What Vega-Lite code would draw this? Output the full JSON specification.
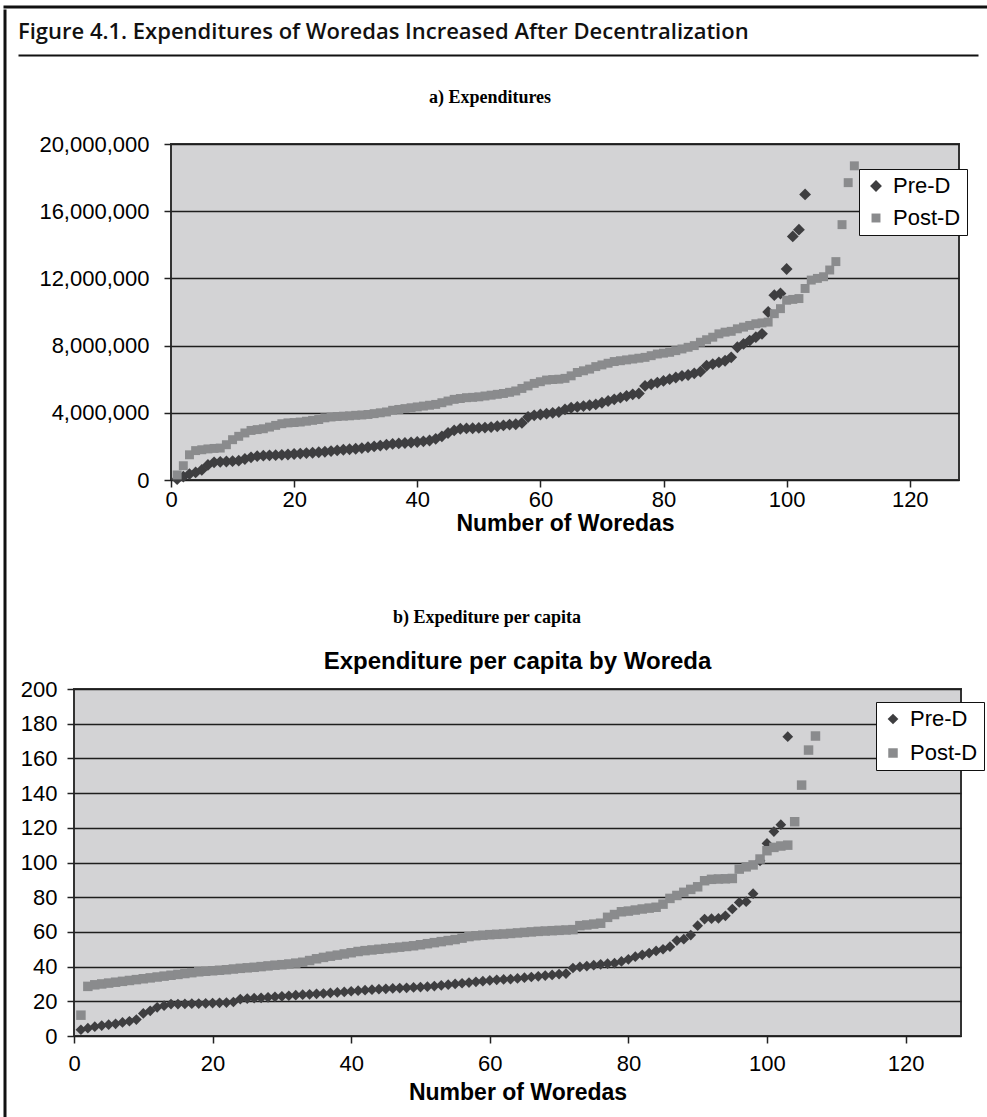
{
"$schema": "https://vega.github.io/schema/vega-lite/v6.json",
"background": "white",
"padding": {"left": 3, "top": 5, "right": 0, "bottom": 0},
"spacing": 0,
"resolve": {"scale": {"color": "independent", "shape": "independent", "size": "independent"}},
"config": {
  "view": {"stroke": null},
  "font": "Liberation Sans",
  "axis": {"labelFont": "Liberation Sans", "titleFont": "Liberation Sans", "labelColor": "#000", "titleColor": "#000", "tickColor": "#222", "labelFlush": false, "labelOverlap": false},
  "title": {"color": "#000"}
},
"datasets": {
"exp": [
{"s":"Pre-D","n":1,"v":50000},{"s":"Pre-D","n":2,"v":200000},{"s":"Pre-D","n":3,"v":350000},{"s":"Pre-D","n":4,"v":450000},{"s":"Pre-D","n":5,"v":600000},{"s":"Pre-D","n":6,"v":900000},{"s":"Pre-D","n":7,"v":1050000},{"s":"Pre-D","n":8,"v":1080000},{"s":"Pre-D","n":9,"v":1100000},{"s":"Pre-D","n":10,"v":1120000},
{"s":"Pre-D","n":11,"v":1150000},{"s":"Pre-D","n":12,"v":1250000},{"s":"Pre-D","n":13,"v":1350000},{"s":"Pre-D","n":14,"v":1420000},{"s":"Pre-D","n":15,"v":1450000},{"s":"Pre-D","n":16,"v":1470000},{"s":"Pre-D","n":17,"v":1480000},{"s":"Pre-D","n":18,"v":1500000},{"s":"Pre-D","n":19,"v":1520000},{"s":"Pre-D","n":20,"v":1550000},
{"s":"Pre-D","n":21,"v":1570000},{"s":"Pre-D","n":22,"v":1600000},{"s":"Pre-D","n":23,"v":1620000},{"s":"Pre-D","n":24,"v":1650000},{"s":"Pre-D","n":25,"v":1680000},{"s":"Pre-D","n":26,"v":1720000},{"s":"Pre-D","n":27,"v":1760000},{"s":"Pre-D","n":28,"v":1800000},{"s":"Pre-D","n":29,"v":1830000},{"s":"Pre-D","n":30,"v":1860000},
{"s":"Pre-D","n":31,"v":1900000},{"s":"Pre-D","n":32,"v":1950000},{"s":"Pre-D","n":33,"v":2000000},{"s":"Pre-D","n":34,"v":2050000},{"s":"Pre-D","n":35,"v":2100000},{"s":"Pre-D","n":36,"v":2150000},{"s":"Pre-D","n":37,"v":2180000},{"s":"Pre-D","n":38,"v":2200000},{"s":"Pre-D","n":39,"v":2230000},{"s":"Pre-D","n":40,"v":2260000},
{"s":"Pre-D","n":41,"v":2300000},{"s":"Pre-D","n":42,"v":2350000},{"s":"Pre-D","n":43,"v":2450000},{"s":"Pre-D","n":44,"v":2600000},{"s":"Pre-D","n":45,"v":2800000},{"s":"Pre-D","n":46,"v":2950000},{"s":"Pre-D","n":47,"v":3050000},{"s":"Pre-D","n":48,"v":3070000},{"s":"Pre-D","n":49,"v":3080000},{"s":"Pre-D","n":50,"v":3100000},
{"s":"Pre-D","n":51,"v":3120000},{"s":"Pre-D","n":52,"v":3150000},{"s":"Pre-D","n":53,"v":3200000},{"s":"Pre-D","n":54,"v":3250000},{"s":"Pre-D","n":55,"v":3300000},{"s":"Pre-D","n":56,"v":3320000},{"s":"Pre-D","n":57,"v":3400000},{"s":"Pre-D","n":58,"v":3750000},{"s":"Pre-D","n":59,"v":3850000},{"s":"Pre-D","n":60,"v":3900000},
{"s":"Pre-D","n":61,"v":3950000},{"s":"Pre-D","n":62,"v":4000000},{"s":"Pre-D","n":63,"v":4050000},{"s":"Pre-D","n":64,"v":4200000},{"s":"Pre-D","n":65,"v":4300000},{"s":"Pre-D","n":66,"v":4350000},{"s":"Pre-D","n":67,"v":4400000},{"s":"Pre-D","n":68,"v":4450000},{"s":"Pre-D","n":69,"v":4500000},{"s":"Pre-D","n":70,"v":4600000},
{"s":"Pre-D","n":71,"v":4700000},{"s":"Pre-D","n":72,"v":4800000},{"s":"Pre-D","n":73,"v":4900000},{"s":"Pre-D","n":74,"v":5000000},{"s":"Pre-D","n":75,"v":5100000},{"s":"Pre-D","n":76,"v":5150000},{"s":"Pre-D","n":77,"v":5600000},{"s":"Pre-D","n":78,"v":5700000},{"s":"Pre-D","n":79,"v":5800000},{"s":"Pre-D","n":80,"v":5900000},
{"s":"Pre-D","n":81,"v":6000000},{"s":"Pre-D","n":82,"v":6100000},{"s":"Pre-D","n":83,"v":6200000},{"s":"Pre-D","n":84,"v":6250000},{"s":"Pre-D","n":85,"v":6350000},{"s":"Pre-D","n":86,"v":6450000},{"s":"Pre-D","n":87,"v":6800000},{"s":"Pre-D","n":88,"v":6900000},{"s":"Pre-D","n":89,"v":7000000},{"s":"Pre-D","n":90,"v":7100000},
{"s":"Pre-D","n":91,"v":7300000},{"s":"Pre-D","n":92,"v":7900000},{"s":"Pre-D","n":93,"v":8100000},{"s":"Pre-D","n":94,"v":8300000},{"s":"Pre-D","n":95,"v":8500000},{"s":"Pre-D","n":96,"v":8700000},{"s":"Pre-D","n":97,"v":10000000},{"s":"Pre-D","n":98,"v":11000000},{"s":"Pre-D","n":99,"v":11100000},{"s":"Pre-D","n":100,"v":12560000},
{"s":"Pre-D","n":101,"v":14500000},{"s":"Pre-D","n":102,"v":14900000},{"s":"Pre-D","n":103,"v":17000000},
{"s":"Post-D","n":1,"v":300000},{"s":"Post-D","n":2,"v":850000},{"s":"Post-D","n":3,"v":1500000},{"s":"Post-D","n":4,"v":1750000},{"s":"Post-D","n":5,"v":1800000},{"s":"Post-D","n":6,"v":1850000},{"s":"Post-D","n":7,"v":1880000},{"s":"Post-D","n":8,"v":1900000},{"s":"Post-D","n":9,"v":2100000},{"s":"Post-D","n":10,"v":2400000},
{"s":"Post-D","n":11,"v":2600000},{"s":"Post-D","n":12,"v":2800000},{"s":"Post-D","n":13,"v":2950000},{"s":"Post-D","n":14,"v":3000000},{"s":"Post-D","n":15,"v":3050000},{"s":"Post-D","n":16,"v":3150000},{"s":"Post-D","n":17,"v":3250000},{"s":"Post-D","n":18,"v":3350000},{"s":"Post-D","n":19,"v":3400000},{"s":"Post-D","n":20,"v":3420000},
{"s":"Post-D","n":21,"v":3450000},{"s":"Post-D","n":22,"v":3500000},{"s":"Post-D","n":23,"v":3550000},{"s":"Post-D","n":24,"v":3600000},{"s":"Post-D","n":25,"v":3700000},{"s":"Post-D","n":26,"v":3750000},{"s":"Post-D","n":27,"v":3780000},{"s":"Post-D","n":28,"v":3800000},{"s":"Post-D","n":29,"v":3820000},{"s":"Post-D","n":30,"v":3850000},
{"s":"Post-D","n":31,"v":3870000},{"s":"Post-D","n":32,"v":3900000},{"s":"Post-D","n":33,"v":3950000},{"s":"Post-D","n":34,"v":4000000},{"s":"Post-D","n":35,"v":4050000},{"s":"Post-D","n":36,"v":4150000},{"s":"Post-D","n":37,"v":4200000},{"s":"Post-D","n":38,"v":4250000},{"s":"Post-D","n":39,"v":4300000},{"s":"Post-D","n":40,"v":4350000},
{"s":"Post-D","n":41,"v":4400000},{"s":"Post-D","n":42,"v":4450000},{"s":"Post-D","n":43,"v":4500000},{"s":"Post-D","n":44,"v":4600000},{"s":"Post-D","n":45,"v":4700000},{"s":"Post-D","n":46,"v":4800000},{"s":"Post-D","n":47,"v":4850000},{"s":"Post-D","n":48,"v":4900000},{"s":"Post-D","n":49,"v":4920000},{"s":"Post-D","n":50,"v":4950000},
{"s":"Post-D","n":51,"v":5000000},{"s":"Post-D","n":52,"v":5050000},{"s":"Post-D","n":53,"v":5100000},{"s":"Post-D","n":54,"v":5150000},{"s":"Post-D","n":55,"v":5220000},{"s":"Post-D","n":56,"v":5300000},{"s":"Post-D","n":57,"v":5450000},{"s":"Post-D","n":58,"v":5600000},{"s":"Post-D","n":59,"v":5750000},{"s":"Post-D","n":60,"v":5850000},
{"s":"Post-D","n":61,"v":5950000},{"s":"Post-D","n":62,"v":5980000},{"s":"Post-D","n":63,"v":6000000},{"s":"Post-D","n":64,"v":6050000},{"s":"Post-D","n":65,"v":6200000},{"s":"Post-D","n":66,"v":6400000},{"s":"Post-D","n":67,"v":6500000},{"s":"Post-D","n":68,"v":6600000},{"s":"Post-D","n":69,"v":6750000},{"s":"Post-D","n":70,"v":6850000},
{"s":"Post-D","n":71,"v":6950000},{"s":"Post-D","n":72,"v":7050000},{"s":"Post-D","n":73,"v":7100000},{"s":"Post-D","n":74,"v":7150000},{"s":"Post-D","n":75,"v":7200000},{"s":"Post-D","n":76,"v":7250000},{"s":"Post-D","n":77,"v":7300000},{"s":"Post-D","n":78,"v":7400000},{"s":"Post-D","n":79,"v":7500000},{"s":"Post-D","n":80,"v":7550000},
{"s":"Post-D","n":81,"v":7600000},{"s":"Post-D","n":82,"v":7700000},{"s":"Post-D","n":83,"v":7800000},{"s":"Post-D","n":84,"v":7900000},{"s":"Post-D","n":85,"v":8000000},{"s":"Post-D","n":86,"v":8200000},{"s":"Post-D","n":87,"v":8350000},{"s":"Post-D","n":88,"v":8500000},{"s":"Post-D","n":89,"v":8700000},{"s":"Post-D","n":90,"v":8800000},
{"s":"Post-D","n":91,"v":8850000},{"s":"Post-D","n":92,"v":9000000},{"s":"Post-D","n":93,"v":9100000},{"s":"Post-D","n":94,"v":9200000},{"s":"Post-D","n":95,"v":9300000},{"s":"Post-D","n":96,"v":9350000},{"s":"Post-D","n":97,"v":9400000},{"s":"Post-D","n":98,"v":9900000},{"s":"Post-D","n":99,"v":10200000},{"s":"Post-D","n":100,"v":10700000},
{"s":"Post-D","n":101,"v":10750000},{"s":"Post-D","n":102,"v":10800000},{"s":"Post-D","n":103,"v":11400000},{"s":"Post-D","n":104,"v":11900000},{"s":"Post-D","n":105,"v":12000000},{"s":"Post-D","n":106,"v":12100000},{"s":"Post-D","n":107,"v":12500000},{"s":"Post-D","n":108,"v":13000000},{"s":"Post-D","n":109,"v":15200000},{"s":"Post-D","n":110,"v":17700000},
{"s":"Post-D","n":111,"v":18700000}
],
"pc": [
{"s":"Pre-D","n":1,"v":3.6},{"s":"Pre-D","n":2,"v":4.5},{"s":"Pre-D","n":3,"v":5.4},{"s":"Pre-D","n":4,"v":6},{"s":"Pre-D","n":5,"v":6.5},{"s":"Pre-D","n":6,"v":7},{"s":"Pre-D","n":7,"v":7.8},{"s":"Pre-D","n":8,"v":8.5},{"s":"Pre-D","n":9,"v":9.5},{"s":"Pre-D","n":10,"v":13},
{"s":"Pre-D","n":11,"v":14.5},{"s":"Pre-D","n":12,"v":16.5},{"s":"Pre-D","n":13,"v":17.5},{"s":"Pre-D","n":14,"v":18.4},{"s":"Pre-D","n":15,"v":18.4},{"s":"Pre-D","n":16,"v":18.5},{"s":"Pre-D","n":17,"v":18.6},{"s":"Pre-D","n":18,"v":18.7},{"s":"Pre-D","n":19,"v":18.8},{"s":"Pre-D","n":20,"v":19},
{"s":"Pre-D","n":21,"v":19.1},{"s":"Pre-D","n":22,"v":19.3},{"s":"Pre-D","n":23,"v":19.6},{"s":"Pre-D","n":24,"v":21.3},{"s":"Pre-D","n":25,"v":21.6},{"s":"Pre-D","n":26,"v":21.8},{"s":"Pre-D","n":27,"v":22},{"s":"Pre-D","n":28,"v":22.3},{"s":"Pre-D","n":29,"v":22.6},{"s":"Pre-D","n":30,"v":22.9},
{"s":"Pre-D","n":31,"v":23.2},{"s":"Pre-D","n":32,"v":23.5},{"s":"Pre-D","n":33,"v":23.8},{"s":"Pre-D","n":34,"v":24},{"s":"Pre-D","n":35,"v":24.3},{"s":"Pre-D","n":36,"v":24.5},{"s":"Pre-D","n":37,"v":24.8},{"s":"Pre-D","n":38,"v":25.1},{"s":"Pre-D","n":39,"v":25.4},{"s":"Pre-D","n":40,"v":25.8},
{"s":"Pre-D","n":41,"v":26.1},{"s":"Pre-D","n":42,"v":26.4},{"s":"Pre-D","n":43,"v":26.7},{"s":"Pre-D","n":44,"v":27},{"s":"Pre-D","n":45,"v":27.2},{"s":"Pre-D","n":46,"v":27.4},{"s":"Pre-D","n":47,"v":27.6},{"s":"Pre-D","n":48,"v":27.8},{"s":"Pre-D","n":49,"v":28},{"s":"Pre-D","n":50,"v":28.2},
{"s":"Pre-D","n":51,"v":28.4},{"s":"Pre-D","n":52,"v":28.8},{"s":"Pre-D","n":53,"v":29.2},{"s":"Pre-D","n":54,"v":29.6},{"s":"Pre-D","n":55,"v":30},{"s":"Pre-D","n":56,"v":30.4},{"s":"Pre-D","n":57,"v":30.8},{"s":"Pre-D","n":58,"v":31.2},{"s":"Pre-D","n":59,"v":31.6},{"s":"Pre-D","n":60,"v":32},
{"s":"Pre-D","n":61,"v":32.4},{"s":"Pre-D","n":62,"v":32.6},{"s":"Pre-D","n":63,"v":32.8},{"s":"Pre-D","n":64,"v":33.2},{"s":"Pre-D","n":65,"v":33.6},{"s":"Pre-D","n":66,"v":34},{"s":"Pre-D","n":67,"v":34.4},{"s":"Pre-D","n":68,"v":34.8},{"s":"Pre-D","n":69,"v":35.2},{"s":"Pre-D","n":70,"v":35.7},
{"s":"Pre-D","n":71,"v":36},{"s":"Pre-D","n":72,"v":39.2},{"s":"Pre-D","n":73,"v":39.8},{"s":"Pre-D","n":74,"v":40.3},{"s":"Pre-D","n":75,"v":40.8},{"s":"Pre-D","n":76,"v":41.3},{"s":"Pre-D","n":77,"v":41.7},{"s":"Pre-D","n":78,"v":42},{"s":"Pre-D","n":79,"v":43},{"s":"Pre-D","n":80,"v":44.2},
{"s":"Pre-D","n":81,"v":45.7},{"s":"Pre-D","n":82,"v":46.8},{"s":"Pre-D","n":83,"v":47.8},{"s":"Pre-D","n":84,"v":49},{"s":"Pre-D","n":85,"v":50},{"s":"Pre-D","n":86,"v":51.5},{"s":"Pre-D","n":87,"v":55},{"s":"Pre-D","n":88,"v":55.8},{"s":"Pre-D","n":89,"v":58.2},{"s":"Pre-D","n":90,"v":63.6},
{"s":"Pre-D","n":91,"v":67.4},{"s":"Pre-D","n":92,"v":67.6},{"s":"Pre-D","n":93,"v":67.8},{"s":"Pre-D","n":94,"v":69.3},{"s":"Pre-D","n":95,"v":73.2},{"s":"Pre-D","n":96,"v":77},{"s":"Pre-D","n":97,"v":77.4},{"s":"Pre-D","n":98,"v":82},{"s":"Pre-D","n":99,"v":101},{"s":"Pre-D","n":100,"v":111},
{"s":"Pre-D","n":101,"v":117.8},{"s":"Pre-D","n":102,"v":121.8},{"s":"Pre-D","n":103,"v":172.5},
{"s":"Post-D","n":1,"v":12},{"s":"Post-D","n":2,"v":28.6},{"s":"Post-D","n":3,"v":29.5},{"s":"Post-D","n":4,"v":30},{"s":"Post-D","n":5,"v":30.5},{"s":"Post-D","n":6,"v":31},{"s":"Post-D","n":7,"v":31.5},{"s":"Post-D","n":8,"v":32},{"s":"Post-D","n":9,"v":32.5},{"s":"Post-D","n":10,"v":33},
{"s":"Post-D","n":11,"v":33.5},{"s":"Post-D","n":12,"v":34},{"s":"Post-D","n":13,"v":34.5},{"s":"Post-D","n":14,"v":35},{"s":"Post-D","n":15,"v":35.5},{"s":"Post-D","n":16,"v":36},{"s":"Post-D","n":17,"v":36.5},{"s":"Post-D","n":18,"v":37},{"s":"Post-D","n":19,"v":37.3},{"s":"Post-D","n":20,"v":37.6},
{"s":"Post-D","n":21,"v":37.9},{"s":"Post-D","n":22,"v":38.2},{"s":"Post-D","n":23,"v":38.6},{"s":"Post-D","n":24,"v":39},{"s":"Post-D","n":25,"v":39.3},{"s":"Post-D","n":26,"v":39.6},{"s":"Post-D","n":27,"v":40},{"s":"Post-D","n":28,"v":40.4},{"s":"Post-D","n":29,"v":40.8},{"s":"Post-D","n":30,"v":41.1},
{"s":"Post-D","n":31,"v":41.5},{"s":"Post-D","n":32,"v":42},{"s":"Post-D","n":33,"v":42.5},{"s":"Post-D","n":34,"v":43.5},{"s":"Post-D","n":35,"v":44.5},{"s":"Post-D","n":36,"v":45.3},{"s":"Post-D","n":37,"v":46},{"s":"Post-D","n":38,"v":46.6},{"s":"Post-D","n":39,"v":47.3},{"s":"Post-D","n":40,"v":48},
{"s":"Post-D","n":41,"v":48.7},{"s":"Post-D","n":42,"v":49.2},{"s":"Post-D","n":43,"v":49.6},{"s":"Post-D","n":44,"v":50},{"s":"Post-D","n":45,"v":50.4},{"s":"Post-D","n":46,"v":50.8},{"s":"Post-D","n":47,"v":51.2},{"s":"Post-D","n":48,"v":51.6},{"s":"Post-D","n":49,"v":52},{"s":"Post-D","n":50,"v":52.6},
{"s":"Post-D","n":51,"v":53.2},{"s":"Post-D","n":52,"v":53.8},{"s":"Post-D","n":53,"v":54.4},{"s":"Post-D","n":54,"v":55},{"s":"Post-D","n":55,"v":55.6},{"s":"Post-D","n":56,"v":56.4},{"s":"Post-D","n":57,"v":57.3},{"s":"Post-D","n":58,"v":57.8},{"s":"Post-D","n":59,"v":58.1},{"s":"Post-D","n":60,"v":58.4},
{"s":"Post-D","n":61,"v":58.6},{"s":"Post-D","n":62,"v":58.8},{"s":"Post-D","n":63,"v":59.1},{"s":"Post-D","n":64,"v":59.4},{"s":"Post-D","n":65,"v":59.7},{"s":"Post-D","n":66,"v":60},{"s":"Post-D","n":67,"v":60.3},{"s":"Post-D","n":68,"v":60.5},{"s":"Post-D","n":69,"v":60.7},{"s":"Post-D","n":70,"v":60.9},
{"s":"Post-D","n":71,"v":61.1},{"s":"Post-D","n":72,"v":61.3},{"s":"Post-D","n":73,"v":63.6},{"s":"Post-D","n":74,"v":64},{"s":"Post-D","n":75,"v":64.5},{"s":"Post-D","n":76,"v":65},{"s":"Post-D","n":77,"v":68.4},{"s":"Post-D","n":78,"v":70},{"s":"Post-D","n":79,"v":71.6},{"s":"Post-D","n":80,"v":72},
{"s":"Post-D","n":81,"v":72.6},{"s":"Post-D","n":82,"v":73.2},{"s":"Post-D","n":83,"v":73.7},{"s":"Post-D","n":84,"v":74.2},{"s":"Post-D","n":85,"v":76},{"s":"Post-D","n":86,"v":79.3},{"s":"Post-D","n":87,"v":81},{"s":"Post-D","n":88,"v":82.8},{"s":"Post-D","n":89,"v":84.5},{"s":"Post-D","n":90,"v":86},
{"s":"Post-D","n":91,"v":89.5},{"s":"Post-D","n":92,"v":90.3},{"s":"Post-D","n":93,"v":90.5},{"s":"Post-D","n":94,"v":90.6},{"s":"Post-D","n":95,"v":90.8},{"s":"Post-D","n":96,"v":96.2},{"s":"Post-D","n":97,"v":97.5},{"s":"Post-D","n":98,"v":98.6},{"s":"Post-D","n":99,"v":102},{"s":"Post-D","n":100,"v":106.8},
{"s":"Post-D","n":101,"v":108.7},{"s":"Post-D","n":102,"v":109.5},{"s":"Post-D","n":103,"v":110},{"s":"Post-D","n":104,"v":123.5},{"s":"Post-D","n":105,"v":144.6},{"s":"Post-D","n":106,"v":164.8},{"s":"Post-D","n":107,"v":172.9}
]
},
"vconcat": [
  {"width": 985, "height": 0.01, "view": {"stroke": "#111", "strokeWidth": 3}, "data": {"values": []}, "mark": "point"},
  {"hconcat": [
    {"width": 0.01, "height": 1112, "view": {"stroke": "#111", "strokeWidth": 3}, "data": {"values": []}, "mark": "point"},
    {"vconcat": [
      {
        "width": 960, "height": 44,
        "title": {"text": "Figure 4.1.  Expenditures of Woredas Increased After Decentralization", "anchor": "start", "frame": "group", "offset": -33, "font": "Open Sans", "fontWeight": 600, "fontSize": 22, "color": "#111"},
        "data": {"values": [{"k": 0}, {"k": 1}]},
        "mark": {"type": "point", "opacity": 0},
        "encoding": {"x": {"field": "k", "type": "quantitative", "scale": {"domain": [0, 1]}, "axis": {"domain": true, "domainColor": "#111", "domainWidth": 2, "ticks": false, "labels": false, "grid": false, "title": null}}}
      },
      {"vconcat": [
        {"hconcat": [
          {"width": 1, "height": 1, "data": {"values": []}, "mark": "point"},
          {
            "width": 788, "height": 336,
            "title": {"text": "a) Expenditures", "font": "Liberation Serif", "fontSize": 18, "fontWeight": "bold", "frame": "group", "anchor": "middle", "dx": -75, "offset": 26, "color": "#000"},
            "view": {"fill": "#d3d3d5", "stroke": "#333", "strokeWidth": 2},
            "data": {"name": "exp"},
            "mark": {"type": "point", "filled": true, "opacity": 1},
            "encoding": {
              "x": {"field": "n", "type": "quantitative", "scale": {"domain": [0, 128], "nice": false, "zero": false}, "axis": {"values": [0, 20, 40, 60, 80, 100, 120], "title": "Number of Woredas", "titleFontSize": 23, "titleFontWeight": "bold", "titlePadding": 2, "labelFontSize": 22, "labelPadding": 2, "tickSize": 7, "tickWidth": 1.5, "domain": false, "grid": false}},
              "y": {"field": "v", "type": "quantitative", "scale": {"domain": [0, 20000000], "nice": false}, "axis": {"values": [0, 4000000, 8000000, 12000000, 16000000, 20000000], "format": ",d", "title": null, "labelFontSize": 22, "labelPadding": 15, "tickSize": 7, "tickWidth": 1.5, "domain": false, "grid": true, "gridColor": "#1e1e1e", "gridWidth": 1.5}},
              "color": {"field": "s", "type": "nominal", "scale": {"domain": ["Pre-D", "Post-D"], "range": ["#3e3e40", "#8a8b8d"]}, "legend": {"title": null, "orient": "none", "legendX": 688, "legendY": 25, "fillColor": "white", "strokeColor": "#111", "padding": 6, "labelFontSize": 22, "labelFont": "Liberation Sans", "labelColor": "#000", "symbolSize": 90, "rowPadding": 10, "labelOffset": 6, "symbolStrokeWidth": 0}},
              "shape": {"field": "s", "type": "nominal", "scale": {"domain": ["Pre-D", "Post-D"], "range": ["diamond", "square"]}, "legend": {"title": null, "orient": "none", "legendX": 688, "legendY": 25, "fillColor": "white", "strokeColor": "#111", "padding": 6, "labelFontSize": 22, "labelFont": "Liberation Sans", "labelColor": "#000", "symbolSize": 90, "rowPadding": 10, "labelOffset": 6, "symbolStrokeWidth": 0}},
              "size": {"field": "s", "type": "nominal", "scale": {"domain": ["Pre-D", "Post-D"], "range": [140, 80]}, "legend": null}
            }
          }
        ], "spacing": 18, "resolve": {"scale": {"color": "independent", "shape": "independent", "size": "independent"}}},
        {"width": 938, "height": 1,
         "title": {"text": "b) Expediture per capita", "orient": "bottom", "offset": 50, "font": "Liberation Serif", "fontSize": 18, "fontWeight": "bold", "anchor": "middle", "frame": "group", "color": "#000"},
         "data": {"values": []}, "mark": "point"},
        {"hconcat": [
          {"width": 1, "height": 1, "data": {"values": []}, "mark": "point"},
          {
            "width": 887, "height": 347,
            "title": {"text": "Expenditure per capita by Woreda", "font": "Liberation Sans", "fontSize": 24, "fontWeight": "bold", "frame": "group", "anchor": "middle", "offset": 4, "color": "#000"},
            "view": {"fill": "#d3d3d5", "stroke": "#333", "strokeWidth": 2},
            "data": {"name": "pc"},
            "mark": {"type": "point", "filled": true, "opacity": 1},
            "encoding": {
              "x": {"field": "n", "type": "quantitative", "scale": {"domain": [0, 128], "nice": false, "zero": false}, "axis": {"values": [0, 20, 40, 60, 80, 100, 120], "title": "Number of Woredas", "titleFontSize": 23, "titleFontWeight": "bold", "titlePadding": 7, "labelFontSize": 22, "labelPadding": 10, "tickSize": 7, "tickWidth": 1.5, "domain": false, "grid": false}},
              "y": {"field": "v", "type": "quantitative", "scale": {"domain": [0, 200], "nice": false}, "axis": {"values": [0, 20, 40, 60, 80, 100, 120, 140, 160, 180, 200], "title": null, "labelFontSize": 22, "labelPadding": 10, "tickSize": 7, "tickWidth": 1.5, "domain": false, "grid": true, "gridColor": "#1e1e1e", "gridWidth": 1.5}},
              "color": {"field": "s", "type": "nominal", "scale": {"domain": ["Pre-D", "Post-D"], "range": ["#3e3e40", "#8a8b8d"]}, "legend": {"title": null, "orient": "none", "legendX": 802, "legendY": 13, "fillColor": "white", "strokeColor": "#111", "padding": 6, "labelFontSize": 22, "labelFont": "Liberation Sans", "labelColor": "#000", "symbolSize": 90, "rowPadding": 12, "labelOffset": 6, "symbolStrokeWidth": 0}},
              "shape": {"field": "s", "type": "nominal", "scale": {"domain": ["Pre-D", "Post-D"], "range": ["diamond", "square"]}, "legend": {"title": null, "orient": "none", "legendX": 802, "legendY": 13, "fillColor": "white", "strokeColor": "#111", "padding": 6, "labelFontSize": 22, "labelFont": "Liberation Sans", "labelColor": "#000", "symbolSize": 90, "rowPadding": 12, "labelOffset": 6, "symbolStrokeWidth": 0}},
              "size": {"field": "s", "type": "nominal", "scale": {"domain": ["Pre-D", "Post-D"], "range": [115, 90]}, "legend": null}
            }
          }
        ], "spacing": 0, "resolve": {"scale": {"color": "independent", "shape": "independent", "size": "independent"}}}
      ], "spacing": 22, "resolve": {"scale": {"color": "independent", "shape": "independent", "size": "independent"}}}
    ], "spacing": 33, "resolve": {"scale": {"color": "independent", "shape": "independent", "size": "independent"}}}
  ], "spacing": 8, "resolve": {"scale": {"color": "independent", "shape": "independent", "size": "independent"}}}
]
}
